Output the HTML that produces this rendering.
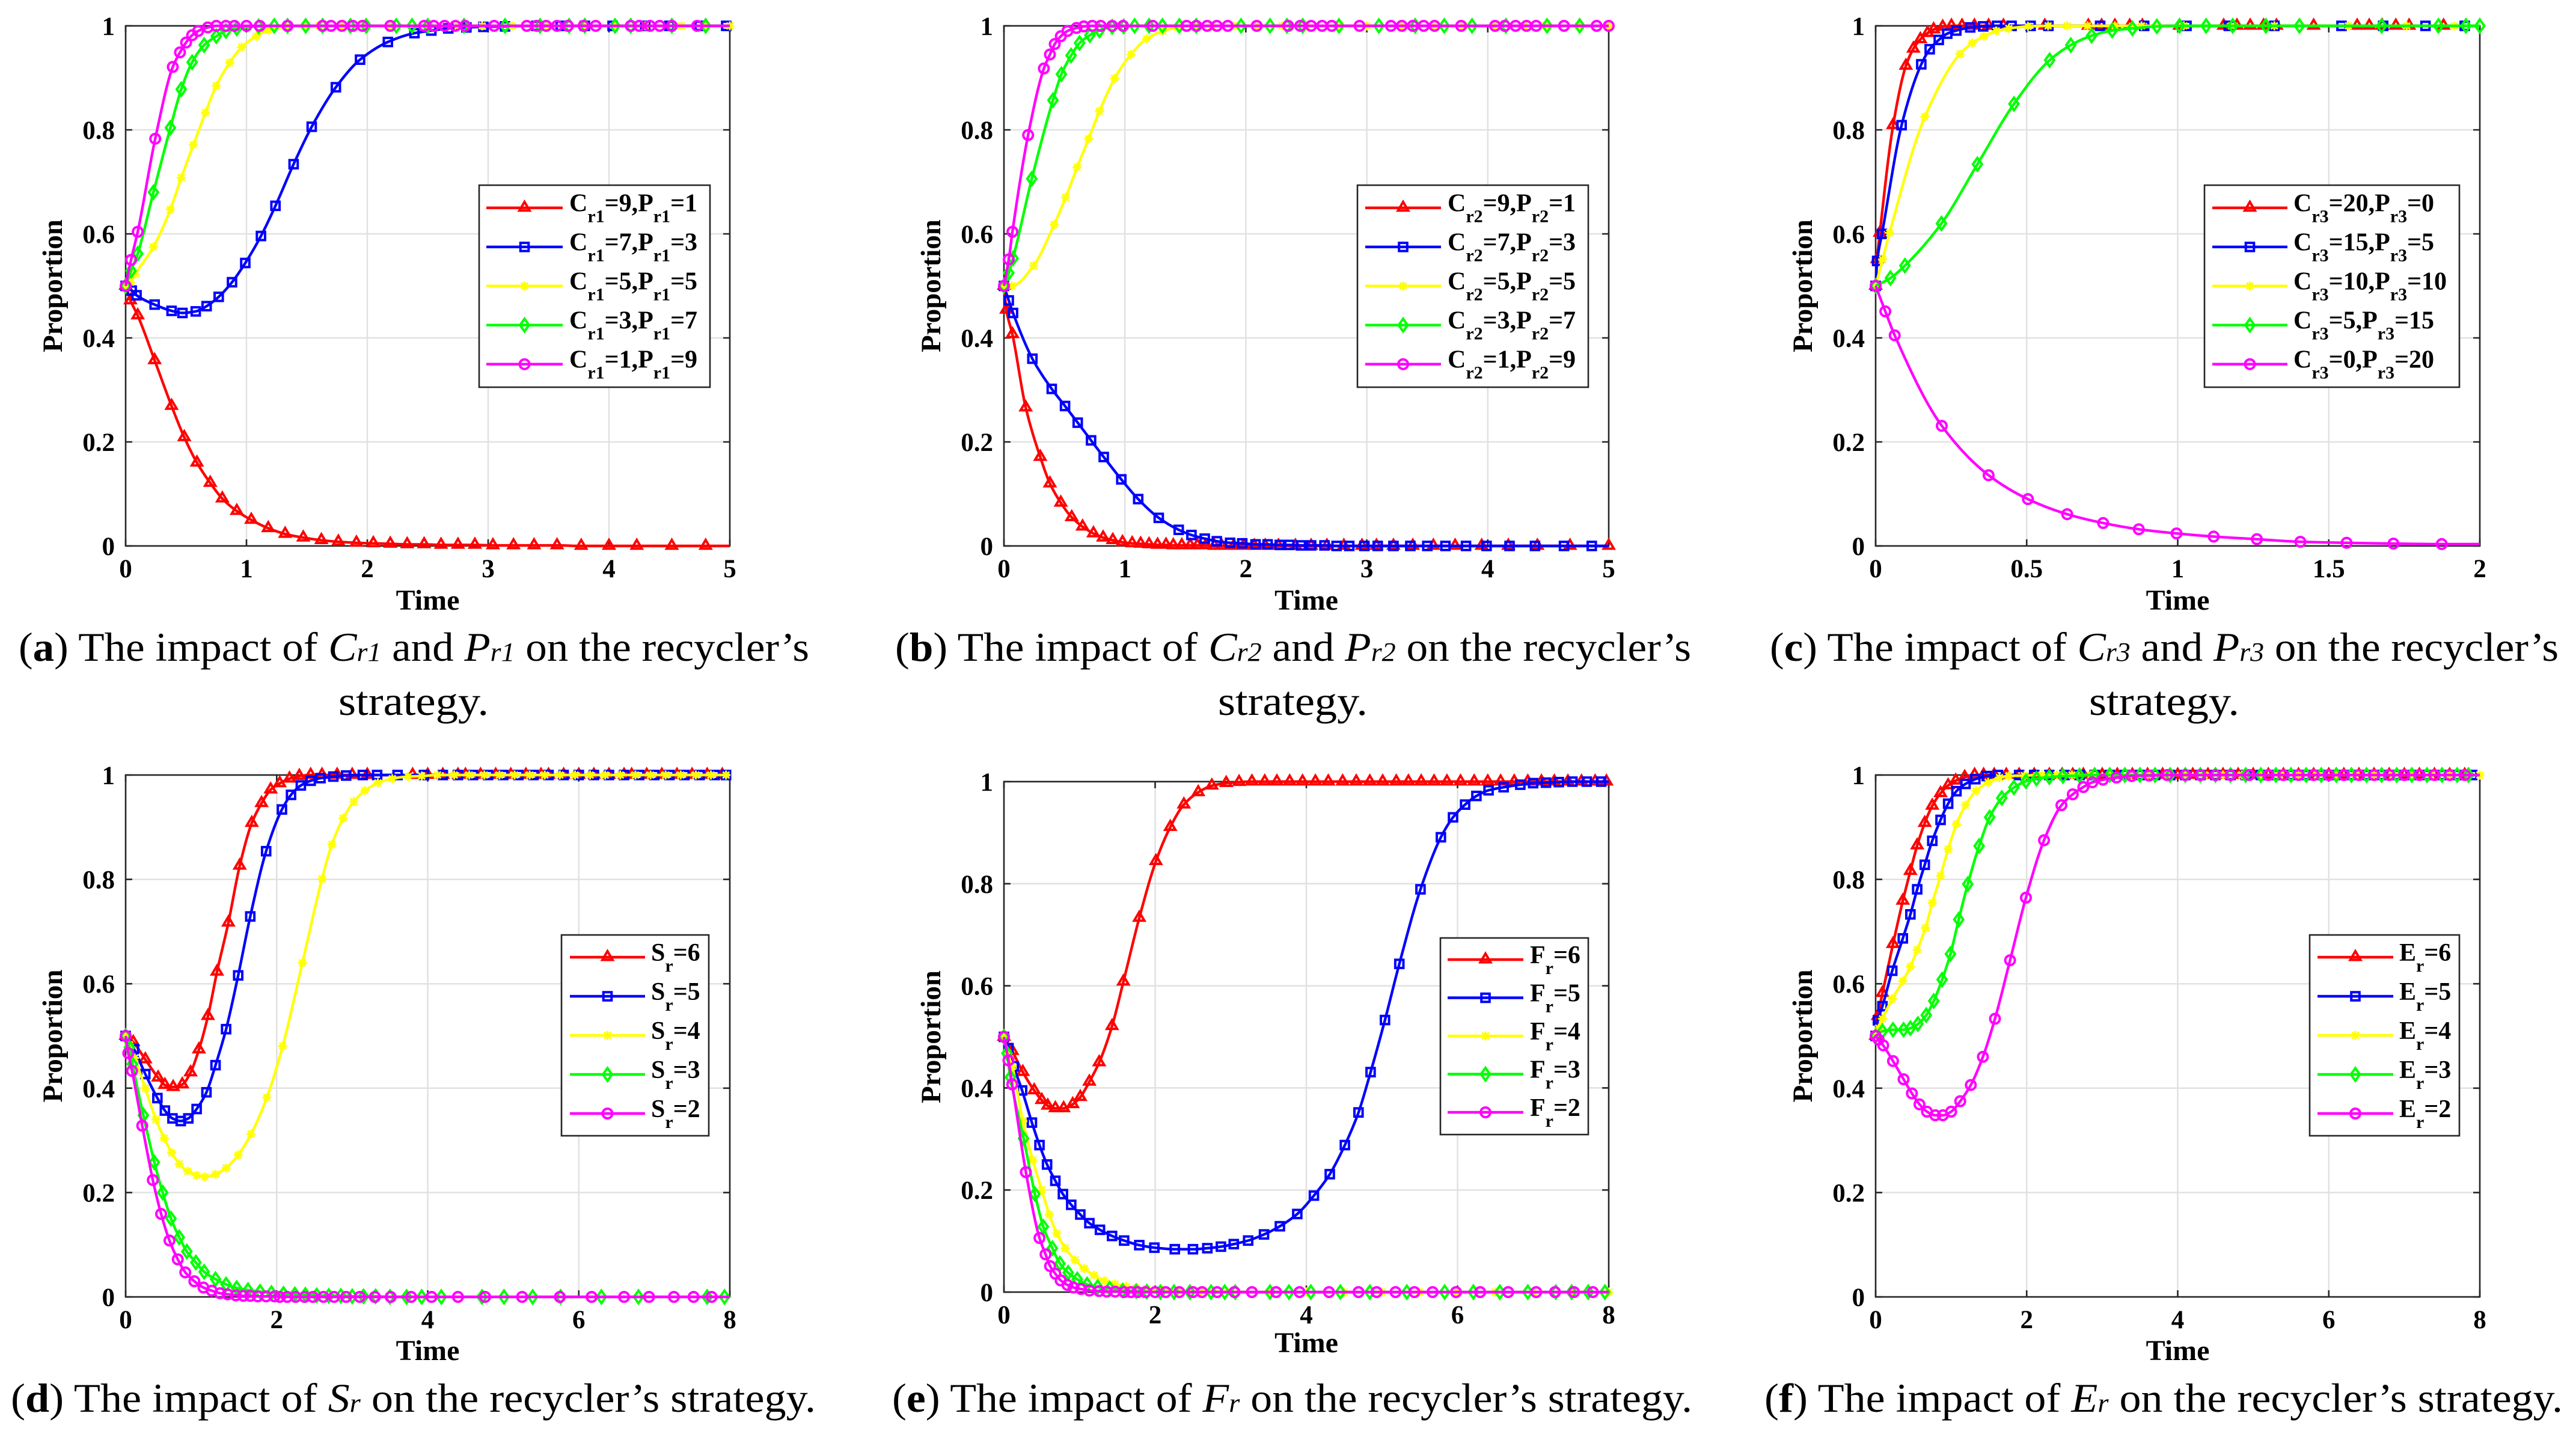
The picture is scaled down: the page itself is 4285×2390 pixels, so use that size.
<!DOCTYPE html>
<html lang="en">
<head>
<meta charset="utf-8">
<title>Impact of parameters on the recycler's strategy</title>
<style>
html,body{margin:0;padding:0;background:#fff;width:4285px;height:2390px;overflow:hidden}
svg{display:block}
text{font-family:"Liberation Serif",serif;fill:#000}
.cap{font-size:68px}
</style>
</head>
<body>
<svg id="fig" width="4285" height="2390" viewBox="0 0 4285 2390" xmlns="http://www.w3.org/2000/svg">
<rect x="0" y="0" width="4285" height="2390" fill="#fff"/>
<g id="charts"></g>
<text class="cap" x="31" y="1099" textLength="1315" lengthAdjust="spacingAndGlyphs">(<tspan font-weight="bold">a</tspan>) The impact of <tspan font-style="italic">C<tspan font-size="44">r1</tspan></tspan> and <tspan font-style="italic">P<tspan font-size="44">r1</tspan></tspan> on the recycler’s</text>
<text class="cap" x="563" y="1189" textLength="250" lengthAdjust="spacingAndGlyphs">strategy.</text>
<text class="cap" x="1489" y="1099" textLength="1324" lengthAdjust="spacingAndGlyphs">(<tspan font-weight="bold">b</tspan>) The impact of <tspan font-style="italic">C<tspan font-size="44">r2</tspan></tspan> and <tspan font-style="italic">P<tspan font-size="44">r2</tspan></tspan> on the recycler’s</text>
<text class="cap" x="2026" y="1189" textLength="249" lengthAdjust="spacingAndGlyphs">strategy.</text>
<text class="cap" x="2944" y="1099" textLength="1312" lengthAdjust="spacingAndGlyphs">(<tspan font-weight="bold">c</tspan>) The impact of <tspan font-style="italic">C<tspan font-size="44">r3</tspan></tspan> and <tspan font-style="italic">P<tspan font-size="44">r3</tspan></tspan> on the recycler’s</text>
<text class="cap" x="3475" y="1189" textLength="250" lengthAdjust="spacingAndGlyphs">strategy.</text>
<text class="cap" x="18" y="2348" textLength="1339" lengthAdjust="spacingAndGlyphs">(<tspan font-weight="bold">d</tspan>) The impact of <tspan font-style="italic">S<tspan font-size="44">r</tspan></tspan> on the recycler’s strategy.</text>
<text class="cap" x="1484" y="2348" textLength="1331" lengthAdjust="spacingAndGlyphs">(<tspan font-weight="bold">e</tspan>) The impact of <tspan font-style="italic">F<tspan font-size="44">r</tspan></tspan> on the recycler’s strategy.</text>
<text class="cap" x="2935" y="2348" textLength="1328" lengthAdjust="spacingAndGlyphs">(<tspan font-weight="bold">f</tspan>) The impact of <tspan font-style="italic">E<tspan font-size="44">r</tspan></tspan> on the recycler’s strategy.</text>
</svg>
<script>
// ---------- shared axis data ----------
const yTicks = [0, 0.2, 0.4, 0.6, 0.8, 1];
const xTicks5 = [0, 1, 2, 3, 4, 5];
const xTicks2 = [0, 0.5, 1, 1.5, 2];
const xTicks8 = [0, 2, 4, 6, 8];

// ---------- panel (a) ----------
const aLabels = ['C_r1=9,P_r1=1', 'C_r1=7,P_r1=3', 'C_r1=5,P_r1=5', 'C_r1=3,P_r1=7', 'C_r1=1,P_r1=9'];
const aRedT = [0,.04,.1,.24,.38,.485,.59,.7,.8,.92,1.04,1.18,1.32,1.47,1.62,1.76,1.91,2.05,2.19,2.33,2.47,2.61,2.75,2.89,3.04,3.21,3.38,3.57,3.77,4,4.23,4.52,4.8];
const aRedY = [.5,.472,.443,.357,.269,.209,.16,.121,.091,.067,.05,.034,.023,.016,.011,.008,.006,.005,.004,.003,.003,.002,.002,.002,.001,.001,.001,.001,0,0,0,0,0];
const aBlueT = [0,.05,.09,.24,.38,.47,.58,.67,.77,.88,.99,1.12,1.24,1.39,1.54,1.74,1.94,2.17,2.39,2.53,2.67,2.82,2.96,3.14,3.4,3.6,3.8,4.03,4.3,4.5,4.75,4.97];
const aBlueY = [.5,.491,.482,.464,.452,.448,.451,.461,.479,.507,.544,.596,.654,.734,.806,.882,.935,.969,.986,.991,.995,.997,.998,.999,1,1,1,1,1,1,1,1];
const aYellowT = [0,.04,.08,.23,.37,.46,.56,.66,.75,.86,.96,1.08,1.18,1.33,1.48,1.6,1.8,1.98,2.2,2.5,2.75,2.95,3.2,3.5,3.8,4.05,4.3,4.6,4.8,5];
const aYellowY = [.5,.507,.523,.575,.647,.708,.771,.833,.885,.929,.959,.98,.992,.998,1,1,1,1,1,1,1,1,1,1,1,1,1,1,1,1];
const aGreenT = [0,.045,.1,.23,.37,.46,.55,.65,.75,.83,.92,1.1,1.23,1.34,1.49,1.63,1.86,1.99,2.24,2.37,2.5,2.8,3.14,3.43,3.67,3.8,4.05,4.18,4.52,4.8];
const aGreenY = [.5,.529,.562,.68,.804,.878,.93,.963,.98,.99,.995,.999,1,1,1,1,1,1,1,1,1,1,1,1,1,1,1,1,1,1];
const aMagentaT = [0,.045,.1,.245,.39,.45,.5,.55,.6,.68,.75,.83,.9,1,1.11,1.34,1.63,1.7,1.79,1.88,1.96,2.19,2.47,2.55,2.64,2.73,2.81,3.05,3.32,3.4,3.48,3.57,3.66,3.79,3.89,4.18,4.25,4.34,4.42,4.52,4.73];
const aMagentaY = [.5,.55,.604,.783,.921,.949,.968,.982,.99,.997,1,1,1,1,1,1,1,1,1,1,1,1,1,1,1,1,1,1,1,1,1,1,1,1,1,1,1,1,1,1,1];

// ---------- panel (b) ----------
const bLabels = ['C_r2=9,P_r2=1', 'C_r2=7,P_r2=3', 'C_r2=5,P_r2=5', 'C_r2=3,P_r2=7', 'C_r2=1,P_r2=9'];
const bRedT = [0,.02,.07,.18,.3,.38,.47,.56,.65,.74,.82,.9,.98,1.06,1.13,1.2,1.27,1.34,1.4,1.47,1.54,1.6,1.67,1.74,1.8,1.9,1.98,2.07,2.16,2.27,2.41,2.54,2.67,2.81,2.96,3.08,3.22,3.38,3.55,3.73,3.95,4.17,4.41,4.68,5];
const bRedY = [.5,.454,.407,.266,.171,.12,.083,.055,.037,.024,.016,.011,.007,.005,.004,.003,.002,.002,.001,.001,.001,.001,.001,0,0,0,0,0,0,0,0,0,0,0,0,0,0,0,0,0,0,0,0,0,0];
const bBlueT = [0,.04,.075,.235,.395,.505,.61,.72,.825,.97,1.11,1.28,1.445,1.55,1.66,1.76,1.87,1.97,2.08,2.18,2.28,2.36,2.455,2.54,2.65,2.75,2.855,2.98,3.09,3.22,3.36,3.5,3.65,3.82,3.99,4.18,4.39,4.63,4.86];
const bBlueY = [.5,.472,.448,.36,.302,.269,.237,.203,.171,.128,.09,.054,.031,.021,.014,.009,.006,.005,.003,.003,.002,.002,.001,.001,.001,0,0,0,0,0,0,0,0,0,0,0,0,0,0];
const bYellowT = [0,.065,.245,.415,.51,.605,.7,.79,.915,1.05,1.18,1.315,1.435,1.58,1.72,1.9,2.1,2.3,2.5,2.78,3,3.3,3.55,3.8,4.05,4.3,4.48,4.75,5];
const bYellowY = [.5,.5,.539,.618,.67,.728,.783,.836,.899,.945,.975,.99,.997,1,1,1,1,1,1,1,1,1,1,1,1,1,1,1,1];
const bGreenT = [0,.04,.075,.23,.405,.475,.555,.625,.71,.79,.895,.99,1.08,1.2,1.31,1.45,1.59,1.96,2.2,2.34,2.47,2.77,3.1,3.4,3.64,3.87,4.15,4.49,4.76];
const bGreenY = [.5,.525,.553,.706,.857,.907,.943,.967,.982,.991,.998,.999,1,1,1,1,1,1,1,1,1,1,1,1,1,1,1,1,1];
const bMagentaT = [0,.04,.07,.2,.33,.38,.42,.47,.525,.6,.66,.73,.8,.895,.985,1.23,1.51,1.59,1.68,1.76,1.85,2.09,2.35,2.45,2.54,2.63,2.71,2.94,3.2,3.29,3.38,3.47,3.56,3.78,4.06,4.14,4.23,4.32,4.4,4.63,4.9,5];
const bMagentaY = [.5,.551,.604,.79,.918,.945,.965,.98,.99,.996,.999,1,1,1,1,1,1,1,1,1,1,1,1,1,1,1,1,1,1,1,1,1,1,1,1,1,1,1,1,1,1,1];

// ---------- panel (c) ----------
const cLabels = ['C_r3=20,P_r3=0', 'C_r3=15,P_r3=5', 'C_r3=10,P_r3=10', 'C_r3=5,P_r3=15', 'C_r3=0,P_r3=20'];
const cRedT = [0,.005,.014,.058,.1,.125,.148,.172,.192,.222,.251,.286,.327,.374,.423,.56,.704,.748,.792,.841,.883,1.006,1.152,1.196,1.24,1.284,1.327,1.45,1.594,1.634,1.677,1.722,1.766,1.88];
const cRedY = [.5,.551,.602,.809,.923,.956,.974,.986,.993,.998,1,1,1,1,1,1,1,1,1,1,1,1,1,1,1,1,1,1,1,1,1,1,1,1];
const cBlueT = [0,.005,.021,.086,.151,.179,.209,.237,.267,.313,.356,.402,.45,.513,.572,.743,.889,1.029,1.169,1.32,1.542,1.68,1.82,1.95];
const cBlueY = [.5,.548,.6,.809,.926,.955,.973,.985,.991,.997,.999,1,1,1,1,1,1,1,1,1,1,1,1,1];
const cYellowT = [0,.023,.046,.163,.279,.32,.358,.399,.441,.504,.571,.634,.701,.792,.88,1.02,1.178,1.32,1.565,1.758,1.916];
const cYellowY = [.5,.551,.602,.825,.946,.967,.98,.99,.995,.999,1,1,1,1,1,1,1,1,1,1,1];
const cGreenT = [0,.049,.097,.218,.337,.458,.576,.646,.715,.783,.85,.931,1.006,1.094,1.182,1.292,1.403,1.675,1.863,1.954,2];
const cGreenY = [.5,.515,.539,.62,.734,.85,.934,.963,.981,.991,.995,.999,1,1,1,1,1,1,1,1,1];
const cMagentaT = [0,.032,.063,.219,.374,.504,.634,.753,.871,.996,1.119,1.262,1.406,1.559,1.714,1.874];
const cMagentaY = [.5,.451,.405,.231,.136,.09,.061,.044,.032,.024,.018,.013,.008,.006,.0045,.0036];

// ---------- panel (d) ----------
const dLabels = ['S_r=6', 'S_r=5', 'S_r=4', 'S_r=3', 'S_r=2'];
const dRedT = [0,.1,.26,.43,.52,.63,.75,.86,.97,1.09,1.21,1.36,1.51,1.67,1.8,1.92,2.04,2.17,2.3,2.45,2.6,2.8,3,3.2,3.8,4,4.2,4.4,4.5,4.7,4.9,5.1,5.3,5.5,5.6,5.8,6,6.2,6.4,6.6,6.7,6.9,7.1,7.3,7.5,7.7,7.9];
const dRedY = [.5,.488,.455,.42,.406,.402,.407,.43,.474,.538,.623,.717,.826,.908,.946,.972,.984,.993,.998,1,1,1,1,1,1,1,1,1,1,1,1,1,1,1,1,1,1,1,1,1,1,1,1,1,1,1,1];
const dBlueT = [0,.11,.26,.42,.52,.62,.73,.83,.94,1.07,1.19,1.33,1.49,1.65,1.86,2.07,2.19,2.32,2.45,2.58,2.75,2.92,3.14,3.33,3.6,3.95,4.2,4.4,4.6,4.8,5,5.2,5.4,5.6,5.8,6,6.2,6.4,6.6,6.8,7,7.2,7.4,7.6,7.8,7.95];
const dBlueY = [.5,.475,.427,.381,.357,.342,.337,.342,.36,.392,.444,.513,.616,.729,.854,.934,.962,.98,.989,.994,.997,.999,1,1,1,1,1,1,1,1,1,1,1,1,1,1,1,1,1,1,1,1,1,1,1,1];
const dYellowT = [0,.05,.12,.26,.4,.51,.61,.71,.82,.94,1.05,1.19,1.33,1.49,1.66,1.87,2.08,2.34,2.6,2.73,2.88,3.02,3.17,3.34,3.53,3.74,3.92,4.13,4.35,4.55,4.75,4.95,5.15,5.35,5.55,5.75,5.95,6.15,6.35,6.55,6.75,6.95,7.15,7.35,7.55,7.75,7.95];
const dYellowY = [.5,.483,.458,.4,.34,.304,.276,.255,.241,.233,.23,.235,.247,.272,.312,.382,.481,.64,.801,.867,.917,.949,.97,.985,.993,.997,.998,1,1,1,1,1,1,1,1,1,1,1,1,1,1,1,1,1,1,1,1];
const dGreenT = [0,.05,.09,.235,.38,.49,.6,.71,.81,.93,1.04,1.19,1.33,1.47,1.62,1.78,1.93,2.09,2.24,2.38,2.53,2.69,2.85,3,3.15,3.31,3.5,3.72,3.92,4.18,4.72,5.01,5.39,5.76,6.3,6.79,7.7,7.93];
const dGreenY = [.5,.478,.446,.348,.258,.2,.15,.114,.087,.066,.048,.034,.024,.017,.013,.01,.0075,.006,.005,.004,.003,.002,.002,.001,.001,.001,0,0,0,0,0,0,0,0,0,0,0,0];
const dMagentaT = [0,.035,.085,.22,.36,.47,.58,.69,.79,.91,1.03,1.14,1.25,1.35,1.46,1.56,1.65,1.75,1.86,1.97,2.04,2.14,2.25,2.37,2.48,2.62,2.76,2.92,3.1,3.3,3.51,3.78,4.05,4.4,4.76,5.25,5.75,6.17,6.6,6.93,7.26,7.52,7.76];
const dMagentaY = [.5,.467,.433,.328,.224,.159,.108,.072,.047,.03,.018,.012,.007,.005,.003,.002,.002,.001,.001,.001,0,0,0,0,0,0,0,0,0,0,0,0,0,0,0,0,0,0,0,0,0,0,0];

// ---------- panel (e) ----------
const eLabels = ['F_r=6', 'F_r=5', 'F_r=4', 'F_r=3', 'F_r=2'];
const eRedT = [0,.11,.25,.4,.5,.58,.68,.79,.91,1.01,1.13,1.26,1.43,1.58,1.79,2.01,2.2,2.38,2.57,2.75,2.94,3.11,3.28,3.45,3.61,3.78,3.95,4.12,4.29,4.48,4.66,4.84,5.01,5.19,5.35,5.52,5.69,5.86,6.04,6.22,6.4,6.57,6.75,6.93,7.11,7.28,7.46,7.64,7.82,7.97];
const eRedY = [.5,.472,.431,.395,.376,.365,.36,.36,.368,.382,.412,.45,.521,.608,.733,.844,.911,.955,.979,.992,.997,.999,1,1,1,1,1,1,1,1,1,1,1,1,1,1,1,1,1,1,1,1,1,1,1,1,1,1,1,1];
const eBlueT = [0,.06,.13,.24,.37,.47,.57,.68,.78,.89,1.01,1.13,1.27,1.43,1.59,1.79,1.99,2.26,2.5,2.69,2.87,3.04,3.23,3.44,3.65,3.88,4.1,4.31,4.51,4.69,4.85,5.04,5.23,5.51,5.78,5.94,6.1,6.25,6.41,6.61,6.83,7,7.17,7.34,7.52,7.71,7.9];
const eBlueY = [.5,.478,.442,.395,.332,.288,.25,.218,.192,.171,.152,.135,.122,.11,.101,.092,.087,.084,.084,.086,.089,.094,.101,.113,.129,.153,.189,.231,.288,.352,.431,.533,.643,.789,.891,.93,.955,.972,.983,.989,.994,.997,.998,.999,1,1,1];
const eYellowT = [0,.05,.11,.25,.38,.5,.6,.7,.81,.94,1.06,1.19,1.33,1.47,1.62,1.75,1.89,2.1,2.3,2.6,3,3.5,4,4.5,5,5.5,6,6.5,7,7.5,8];
const eYellowY = [.5,.468,.442,.335,.259,.2,.152,.115,.086,.063,.046,.033,.022,.016,.011,.008,.006,.004,.003,.002,.001,0,0,0,0,0,0,0,0,0,0];
const eGreenT = [0,.04,.085,.26,.41,.52,.64,.74,.85,.97,1.1,1.24,1.4,1.57,1.75,1.89,2.07,2.25,2.46,2.74,2.92,3.06,3.52,3.77,4.06,4.45,4.84,5.33,5.83,6.21,6.56,6.93,7.3,7.51,7.73,7.95];
const eGreenY = [.5,.468,.421,.301,.192,.128,.086,.056,.038,.025,.015,.01,.007,.003,.002,.001,0,0,0,0,0,0,0,0,0,0,0,0,0,0,0,0,0,0,0,0];
const eMagentaT = [0,.06,.11,.29,.47,.55,.61,.68,.75,.84,.92,1.02,1.13,1.26,1.36,1.47,1.59,1.68,1.77,1.87,2,2.14,2.32,2.5,2.62,2.82,3.05,3.28,3.6,3.91,4.3,4.69,4.93,5.18,5.43,5.67,5.98,6.3,6.67,7.04,7.29,7.54,7.79];
const eMagentaY = [.5,.454,.407,.235,.106,.074,.051,.036,.023,.014,.009,.006,.003,.002,.001,.001,0,0,0,0,0,0,0,0,0,0,0,0,0,0,0,0,0,0,0,0,0,0,0,0,0,0,0];

// ---------- panel (f) ----------
const fLabels = ['E_r=6', 'E_r=5', 'E_r=4', 'E_r=3', 'E_r=2'];
const fRedT = [0,.03,.09,.23,.36,.46,.55,.65,.75,.86,.96,1.06,1.18,1.31,1.43,1.57,1.73,1.9,2.1,2.3,2.47,2.61,2.75,3,3.2,3.4,3.6,3.8,4,4.2,4.4,4.6,4.8,5,5.2,5.4,5.6,5.8,6,6.2,6.4,6.6,6.8,7,7.2,7.4,7.6,7.8];
const fRedY = [.5,.538,.582,.676,.759,.816,.865,.908,.941,.965,.98,.989,.996,1,1,1,1,1,1,1,1,1,1,1,1,1,1,1,1,1,1,1,1,1,1,1,1,1,1,1,1,1,1,1,1,1,1,1];
const fBlueT = [0,.03,.09,.22,.36,.46,.55,.65,.75,.86,.96,1.07,1.19,1.32,1.47,1.62,1.9,2.1,2.3,2.5,2.7,2.9,3.1,3.3,3.5,3.7,3.9,4.1,4.3,4.5,4.7,4.9,5.1,5.3,5.5,5.7,5.9,6.1,6.3,6.5,6.7,6.9,7.1,7.3,7.5,7.7,7.9];
const fBlueY = [.5,.53,.557,.625,.687,.733,.781,.828,.874,.914,.945,.969,.983,.992,.998,1,1,1,1,1,1,1,1,1,1,1,1,1,1,1,1,1,1,1,1,1,1,1,1,1,1,1,1,1,1,1,1];
const fYellowT = [0,.04,.09,.22,.36,.46,.55,.66,.75,.86,.96,1.07,1.19,1.33,1.49,1.64,1.76,1.97,2.2,2.4,2.6,2.85,3.1,3.35,3.6,3.85,4.1,4.35,4.6,4.85,5.1,5.35,5.6,5.85,6.1,6.35,6.6,6.85,7.1,7.35,7.6,7.85,8];
const fYellowY = [.5,.515,.533,.571,.605,.633,.665,.707,.755,.807,.858,.906,.942,.97,.986,.995,.998,.999,1,1,1,1,1,1,1,1,1,1,1,1,1,1,1,1,1,1,1,1,1,1,1,1,1];
const fGreenT = [0,.09,.23,.37,.46,.56,.67,.77,.88,.99,1.1,1.22,1.37,1.51,1.67,1.83,1.99,2.13,2.3,2.48,2.7,2.9,3.1,3.3,3.5,3.7,3.9,4.1,4.3,4.5,4.7,4.9,5.1,5.3,5.5,5.7,5.9,6.1,6.3,6.5,6.7,6.9,7.1,7.3,7.5,7.7,7.85];
const fGreenY = [.5,.509,.512,.512,.515,.523,.54,.567,.608,.657,.723,.791,.864,.919,.956,.976,.988,.993,.996,.998,.999,1,1,1,1,1,1,1,1,1,1,1,1,1,1,1,1,1,1,1,1,1,1,1,1,1,1];
const fMagentaT = [0,.04,.1,.23,.37,.48,.58,.68,.79,.89,1,1.12,1.26,1.42,1.58,1.78,1.99,2.23,2.46,2.61,2.75,2.87,3.01,3.19,3.39,3.62,3.86,4.1,4.3,4.5,4.7,4.95,5.2,5.4,5.6,5.8,6,6.2,6.4,6.6,6.8,7,7.2,7.4,7.6,7.8];
const fMagentaY = [.5,.493,.482,.452,.417,.39,.369,.355,.348,.348,.355,.375,.406,.46,.533,.645,.765,.875,.942,.963,.977,.986,.991,.995,.998,.999,1,1,1,1,1,1,1,1,1,1,1,1,1,1,1,1,1,1,1,1];

// ---------- drawing ----------
const NS = 'http://www.w3.org/2000/svg';
const seriesColors = ['#ff0000', '#0000ff', '#ffff00', '#00ff00', '#ff00ff'];
const seriesNames = ['red', 'blue', 'yellow', 'green', 'magenta'];
const markerKinds = ['triangle', 'square', 'star', 'diamond', 'circle'];
const root = document.getElementById('charts');

function make(parent, tag, attrs, text) {
  const el = document.createElementNS(NS, tag);
  for (const k in attrs) el.setAttribute(k, attrs[k]);
  if (text !== undefined) el.textContent = text;
  parent.appendChild(el);
  return el;
}

// Smooth monotone path through the data points, in pixel space.
function curvePath(px, py) {
  const n = px.length;
  if (n < 3) return 'M' + px.map((x, i) => x + ' ' + py[i]).join('L');
  const h = [], s = [], m = new Array(n);
  for (let i = 0; i < n - 1; i++) {
    h[i] = px[i + 1] - px[i];
    s[i] = (py[i + 1] - py[i]) / h[i];
  }
  m[0] = s[0];
  m[n - 1] = s[n - 2];
  for (let i = 1; i < n - 1; i++) {
    if (s[i - 1] * s[i] <= 0) { m[i] = 0; continue; }
    const w1 = 2 * h[i] + h[i - 1], w2 = h[i] + 2 * h[i - 1];
    m[i] = (w1 + w2) / (w1 / s[i - 1] + w2 / s[i]);
  }
  let d = 'M' + px[0].toFixed(1) + ' ' + py[0].toFixed(1);
  for (let i = 0; i < n - 1; i++) {
    const c = h[i] / 3;
    d += 'C' + (px[i] + c).toFixed(1) + ' ' + (py[i] + m[i] * c).toFixed(1) + ' ' +
         (px[i + 1] - c).toFixed(1) + ' ' + (py[i + 1] - m[i + 1] * c).toFixed(1) + ' ' +
         px[i + 1].toFixed(1) + ' ' + py[i + 1].toFixed(1);
  }
  return d;
}

function drawMarker(parent, kind, color, x, y) {
  const base = { fill: 'none', stroke: color, 'stroke-width': 4 };
  let el;
  if (kind === 'triangle') {
    el = make(parent, 'path', Object.assign({ d: 'M' + x + ' ' + (y - 10) + 'L' + (x + 8.5) + ' ' + (y + 4.5) + 'L' + (x - 8.5) + ' ' + (y + 4.5) + 'Z' }, base));
  } else if (kind === 'square') {
    el = make(parent, 'rect', Object.assign({ x: x - 6.8, y: y - 6.8, width: 13.6, height: 13.6 }, base));
  } else if (kind === 'diamond') {
    el = make(parent, 'path', Object.assign({ d: 'M' + x + ' ' + (y - 10.5) + 'L' + (x + 7.5) + ' ' + y + 'L' + x + ' ' + (y + 10.5) + 'L' + (x - 7.5) + ' ' + y + 'Z' }, base));
  } else if (kind === 'circle') {
    el = make(parent, 'circle', Object.assign({ cx: x, cy: y, r: 8 }, base));
  } else {
    const d = 'M' + (x - 7.5) + ' ' + y + 'H' + (x + 7.5) +
      'M' + x + ' ' + (y - 7.5) + 'V' + (y + 7.5) +
      'M' + (x - 5.5) + ' ' + (y - 5.5) + 'L' + (x + 5.5) + ' ' + (y + 5.5) +
      'M' + (x - 5.5) + ' ' + (y + 5.5) + 'L' + (x + 5.5) + ' ' + (y - 5.5) +
      'M' + (x - 3.5) + ' ' + y + 'a3.5 3.5 0 1 0 7 0a3.5 3.5 0 1 0 -7 0';
    el = make(parent, 'path', { d: d, fill: color, stroke: color, 'stroke-width': 3 });
  }
  
  
}

function drawLegendLabel(parent, x, y, label) {
  const t = make(parent, 'text', { x: x, y: y, 'font-size': 42, 'font-weight': 'bold' });
  
  
  const parts = label.split(/_(r\d?)/);
  let dy = 0;
  parts.forEach((p, i) => {
    if (!p) return;
    const isSub = i % 2 === 1;
    const wanted = isSub ? 18 : 0;
    const a = { dy: wanted - dy };
    if (isSub) a['font-size'] = 30;
    make(t, 'tspan', a, p);
    dy = wanted;
  });
}

function drawPanel(id, f, xMax, xTicks, xs, ys, labels, lg) {
  const g = make(root, 'g', {});
  
  
  const X = t => f.l + (t / xMax) * (f.r - f.l);
  const Y = v => f.b - v * (f.b - f.t);
  const axis = '#262626', grid = '#e1e1e1';

  xTicks.forEach(v => {
    if (v === 0 || v === xMax) return;
    const ln = make(g, 'line', { x1: X(v), x2: X(v), y1: f.t, y2: f.b, stroke: grid, 'stroke-width': 2.5 });
    
    
  });
  yTicks.forEach(v => {
    if (v === 0 || v === 1) return;
    const ln = make(g, 'line', { x1: f.l, x2: f.r, y1: Y(v), y2: Y(v), stroke: grid, 'stroke-width': 2.5 });
    
    
  });

  const box = make(g, 'rect', { x: f.l, y: f.t, width: f.r - f.l, height: f.b - f.t, fill: 'none', stroke: axis, 'stroke-width': 2.6 });
  
  

  xTicks.forEach(v => {
    const d = 'M' + X(v) + ' ' + f.b + 'v-11M' + X(v) + ' ' + f.t + 'v11';
    const tk = make(g, 'path', { d: d, stroke: axis, 'stroke-width': 2.6, fill: 'none' });
    
    
    const lb = make(g, 'text', { x: X(v), y: f.b + 52, 'font-size': 43, 'font-weight': 'bold', 'text-anchor': 'middle', fill: '#262626' }, String(v));
    
    
  });
  yTicks.forEach(v => {
    const d = 'M' + f.l + ' ' + Y(v) + 'h11M' + f.r + ' ' + Y(v) + 'h-11';
    const tk = make(g, 'path', { d: d, stroke: axis, 'stroke-width': 2.6, fill: 'none' });
    
    
    const lb = make(g, 'text', { x: f.l - 18, y: Y(v) + 15, 'font-size': 43, 'font-weight': 'bold', 'text-anchor': 'end', fill: '#262626' }, String(v));
    
    
  });

  const cx = (f.l + f.r) / 2, cy = (f.t + f.b) / 2;
  const xt = make(g, 'text', { x: cx, y: f.b + f.xTitle, 'font-size': 48, 'font-weight': 'bold', 'text-anchor': 'middle', fill: '#262626' }, 'Time');
  
  
  const yt = make(g, 'text', { x: 0, y: 0, 'font-size': 47, 'font-weight': 'bold', 'text-anchor': 'middle', fill: '#262626', transform: 'translate(' + (f.l - 106) + ' ' + cy + ') rotate(-90)' }, 'Proportion');
  
  

  xs.forEach((ts, s) => {
    const vs = ys[s];
    const sg = make(g, 'g', {});
    
    
    const px = ts.map(t => X(t));
    const py = ts.map((t, i) => Y(i < vs.length ? vs[i] : vs[vs.length - 1]));
    // the curve always reaches the right edge of the time axis
    const lx = px.concat(ts[ts.length - 1] < xMax ? [X(xMax)] : []);
    const ly = py.concat(ts[ts.length - 1] < xMax ? [py[py.length - 1]] : []);
    const line = make(sg, 'path', { d: curvePath(lx, ly), fill: 'none', stroke: seriesColors[s], 'stroke-width': 4.4, 'stroke-linejoin': 'round' });
    
    
    px.forEach((x, i) => drawMarker(sg, markerKinds[s], seriesColors[s], +x.toFixed(1), +py[i].toFixed(1)));
  });

  const lgG = make(g, 'g', {});
  
  
  const lgBox = make(lgG, 'rect', { x: lg.l, y: lg.t, width: lg.r - lg.l, height: lg.b - lg.t, fill: '#fff', stroke: axis, 'stroke-width': 2.6 });
  
  
  labels.forEach((label, i) => {
    const ry = lg.row0 + i * lg.step;
    const sw = make(lgG, 'line', { x1: lg.l1, x2: lg.l2, y1: ry, y2: ry, stroke: seriesColors[i], 'stroke-width': 4.4 });
    
    
    drawMarker(lgG, markerKinds[i], seriesColors[i], (lg.l1 + lg.l2) / 2, ry);
    drawLegendLabel(lgG, lg.tx, ry + 6, label);
  });
}

drawPanel('a', { l: 209, r: 1214, t: 43, b: 908, xTitle: 106 }, 5, xTicks5,
  [aRedT, aBlueT, aYellowT, aGreenT, aMagentaT], [aRedY, aBlueY, aYellowY, aGreenY, aMagentaY], aLabels,
  { l: 797, r: 1181, t: 308, b: 644, row0: 345.7, step: 65, l1: 809, l2: 936, tx: 947 });
drawPanel('b', { l: 1670, r: 2676, t: 43, b: 908, xTitle: 106 }, 5, xTicks5,
  [bRedT, bBlueT, bYellowT, bGreenT, bMagentaT], [bRedY, bBlueY, bYellowY, bGreenY, bMagentaY], bLabels,
  { l: 2258, r: 2642, t: 308, b: 644, row0: 345.7, step: 65, l1: 2271, l2: 2397, tx: 2408 });
drawPanel('c', { l: 3120, r: 4125, t: 43, b: 908, xTitle: 106 }, 2, xTicks2,
  [cRedT, cBlueT, cYellowT, cGreenT, cMagentaT], [cRedY, cBlueY, cYellowY, cGreenY, cMagentaY], cLabels,
  { l: 3667, r: 4091, t: 308, b: 644, row0: 345.7, step: 65, l1: 3680, l2: 3805, tx: 3815 });
drawPanel('d', { l: 209, r: 1214, t: 1289, b: 2157, xTitle: 105 }, 8, xTicks8,
  [dRedT, dBlueT, dYellowT, dGreenT, dMagentaT], [dRedY, dBlueY, dYellowY, dGreenY, dMagentaY], dLabels,
  { l: 934, r: 1179, t: 1555, b: 1889, row0: 1592, step: 65, l1: 948, l2: 1073, tx: 1083 });
drawPanel('e', { l: 1670, r: 2676, t: 1300, b: 2149, xTitle: 100 }, 8, xTicks8,
  [eRedT, eBlueT, eYellowT, eGreenT, eMagentaT], [eRedY, eBlueY, eYellowY, eGreenY, eMagentaY], eLabels,
  { l: 2396, r: 2642, t: 1560, b: 1887, row0: 1596, step: 63.5, l1: 2408, l2: 2534, tx: 2545 });
drawPanel('f', { l: 3120, r: 4125, t: 1289, b: 2157, xTitle: 105 }, 8, xTicks8,
  [fRedT, fBlueT, fYellowT, fGreenT, fMagentaT], [fRedY, fBlueY, fYellowY, fGreenY, fMagentaY], fLabels,
  { l: 3842, r: 4091, t: 1555, b: 1889, row0: 1592, step: 65, l1: 3855, l2: 3981, tx: 3991 });
</script>
</body>
</html>
